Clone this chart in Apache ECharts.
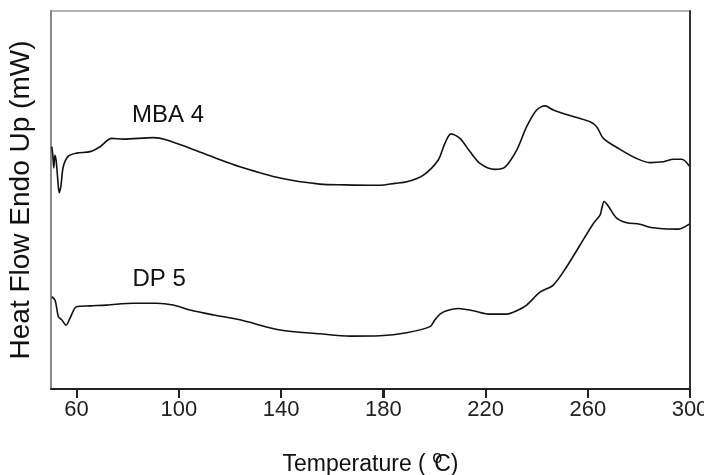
<!DOCTYPE html>
<html>
<head>
<meta charset="utf-8">
<script src="https://cdn.jsdelivr.net/npm/echarts@6/dist/echarts.min.js"></script>
<style>
  html, body { margin: 0; padding: 0; background: #fff; }
  #chart { width: 704px; height: 475px; }
</style>
</head>
<body>
<div id="chart"></div>
<script>
// DSC thermograms (arbitrary heat-flow units, endo up)
const mbaTemp = [50.3, 50.7, 51.1, 51.5, 52.0, 52.6, 53.2, 53.9, 54.8, 56.8, 60.1, 65.3, 69.2, 73.7,
  78.3, 90.0, 95.3, 104.4, 114.8, 123.9, 139.6, 155.2, 165.0, 174.8, 178.7, 184.6, 189.2, 195.7,
  201.5, 204.1, 206.5, 210.0, 213.9, 217.8, 223.7, 227.6, 232.2, 236.1, 240.0, 243.3, 246.5,
  250.4, 255.7, 260.9, 263.5, 266.1, 272.6, 279.1, 284.3, 289.6, 293.5, 296.8, 299.7];
const mbaFlow = [64.1, 62.0, 58.5, 61.8, 60.5, 55.8, 51.9, 53.8, 58.8, 61.6, 62.4, 62.8, 64.1, 66.3,
  66.1, 66.5, 65.9, 63.7, 61.0, 58.8, 55.8, 54.2, 54.0, 53.9, 53.9, 54.4, 54.8, 56.6,
  60.6, 65.0, 67.5, 66.3, 62.8, 59.7, 58.1, 58.7, 63.2, 69.4, 73.8, 74.9, 73.8,
  72.9, 71.8, 70.7, 69.4, 66.3, 63.4, 61.0, 59.9, 60.1, 60.8, 60.8, 59.0];

const dpTemp = [50.3, 51.6, 52.9, 54.2, 55.9, 57.4, 60.1, 65.3, 71.8, 82.2, 91.4, 97.8, 104.4, 113.5,
  123.9, 139.6, 155.2, 167.0, 178.7, 189.2, 198.3, 200.2, 202.2, 204.8, 209.4, 215.2, 221.8,
  228.3, 232.2, 236.1, 241.3, 246.5, 251.8, 257.0, 262.2, 264.8, 265.5, 266.4, 268.0, 271.3,
  275.2, 280.4, 284.3, 289.6, 295.5, 299.7];
const dpFlow = [24.4, 23.5, 19.1, 18.3, 16.9, 18.7, 21.8, 22.0, 22.2, 22.7, 22.7, 22.2, 20.9, 19.6,
  18.3, 15.6, 14.6, 14.0, 14.1, 14.9, 16.5, 18.3, 19.8, 20.7, 21.3, 20.7, 19.8,
  19.8, 20.7, 22.2, 25.6, 27.5, 32.4, 38.1, 43.8, 46.0, 47.8, 49.6, 48.4, 45.2,
  44.0, 43.6, 42.8, 42.4, 42.3, 43.6];

const tempTicks = [60, 100, 140, 180, 220, 260, 300];
const seriesNames = ['MBA 4', 'DP 5'];
const namePos = [[95.8, 72.5], [92.3, 29.1]];

const zip = (xs, ys) => xs.map((x, i) => [x, ys[i]]);
const FONT = '"Liberation Sans", Arial, sans-serif';
const TICK_LEN = 9;

const chart = echarts.init(document.getElementById('chart'), null, { renderer: 'canvas' });

function curve(name, xs, ys, pos) {
  return {
    name: name,
    type: 'line',
    data: zip(xs, ys),
    showSymbol: false,
    smooth: 0.3,
    lineStyle: { color: '#111', width: 1.6 },
    silent: true,
    animation: false,
    markPoint: {
      symbol: 'circle',
      symbolSize: 0,
      silent: true,
      data: [{ coord: pos, value: name }],
      label: {
        show: true,
        position: 'inside',
        formatter: name,
        color: '#111',
        fontSize: 24,
        fontFamily: FONT
      }
    }
  };
}

chart.setOption({
  animation: false,
  backgroundColor: '#fff',
  grid: {
    left: 51, right: 14, top: 11, bottom: 86,
    containLabel: false, outerBoundsMode: 'none',
    show: true, borderColor: '#b5b5b5', borderWidth: 2, backgroundColor: 'transparent'
  },
  xAxis: {
    type: 'value',
    min: 50,
    max: 300,
    position: 'bottom',
    axisLine: { show: true, onZero: false, lineStyle: { color: '#222', width: 2 } },
    axisTick: { show: true, inside: false, length: TICK_LEN, lineStyle: { color: '#222', width: 2 }, customValues: tempTicks },
    axisLabel: { show: true, margin: 10, color: '#222', fontSize: 22, fontFamily: FONT, customValues: tempTicks },
    name: 'Temperature ( {sup|o}C)',
    nameLocation: 'middle',
    nameGap: 60,
    nameTextStyle: {
      color: '#111',
      fontSize: 23,
      fontFamily: FONT,
      rich: {
        sup: { fontSize: 18, verticalAlign: 'bottom', padding: [0, -8, 13, 0], color: '#111', fontFamily: FONT }
      }
    },
    splitLine: { show: false }
  },
  yAxis: [
    {
      type: 'value',
      min: 0,
      max: 100,
      position: 'left',
      name: 'Heat Flow Endo Up (mW)',
      nameLocation: 'middle',
      nameGap: 16,
      nameTextStyle: { color: '#111', fontSize: 28, fontFamily: FONT },
      axisLine: { show: true, onZero: false, lineStyle: { color: '#8a8a8a', width: 2 } },
      axisTick: { show: false },
      axisLabel: { show: false },
      splitLine: { show: false }
    },
    {
      type: 'value',
      min: 0,
      max: 100,
      position: 'right',
      axisLine: { show: true, onZero: false, lineStyle: { color: '#333', width: 2 } },
      axisTick: { show: false },
      axisLabel: { show: false },
      splitLine: { show: false }
    }
  ],
  series: [
    curve(seriesNames[0], mbaTemp, mbaFlow, namePos[0]),
    curve(seriesNames[1], dpTemp, dpFlow, namePos[1])
  ]
});

// Outward tick marks under the temperature axis, placed through the axis scale
const axisY = chart.convertToPixel({ yAxisIndex: 0 }, 0);
chart.setOption({
  graphic: tempTicks.map(function (t) {
    const x = Math.round(chart.convertToPixel({ xAxisIndex: 0 }, t));
    return {
      type: 'line',
      silent: true,
      z: 100,
      shape: { x1: x, y1: axisY, x2: x, y2: axisY + TICK_LEN },
      style: { stroke: '#222', lineWidth: 2 }
    };
  })
});
</script>
</body>
</html>
